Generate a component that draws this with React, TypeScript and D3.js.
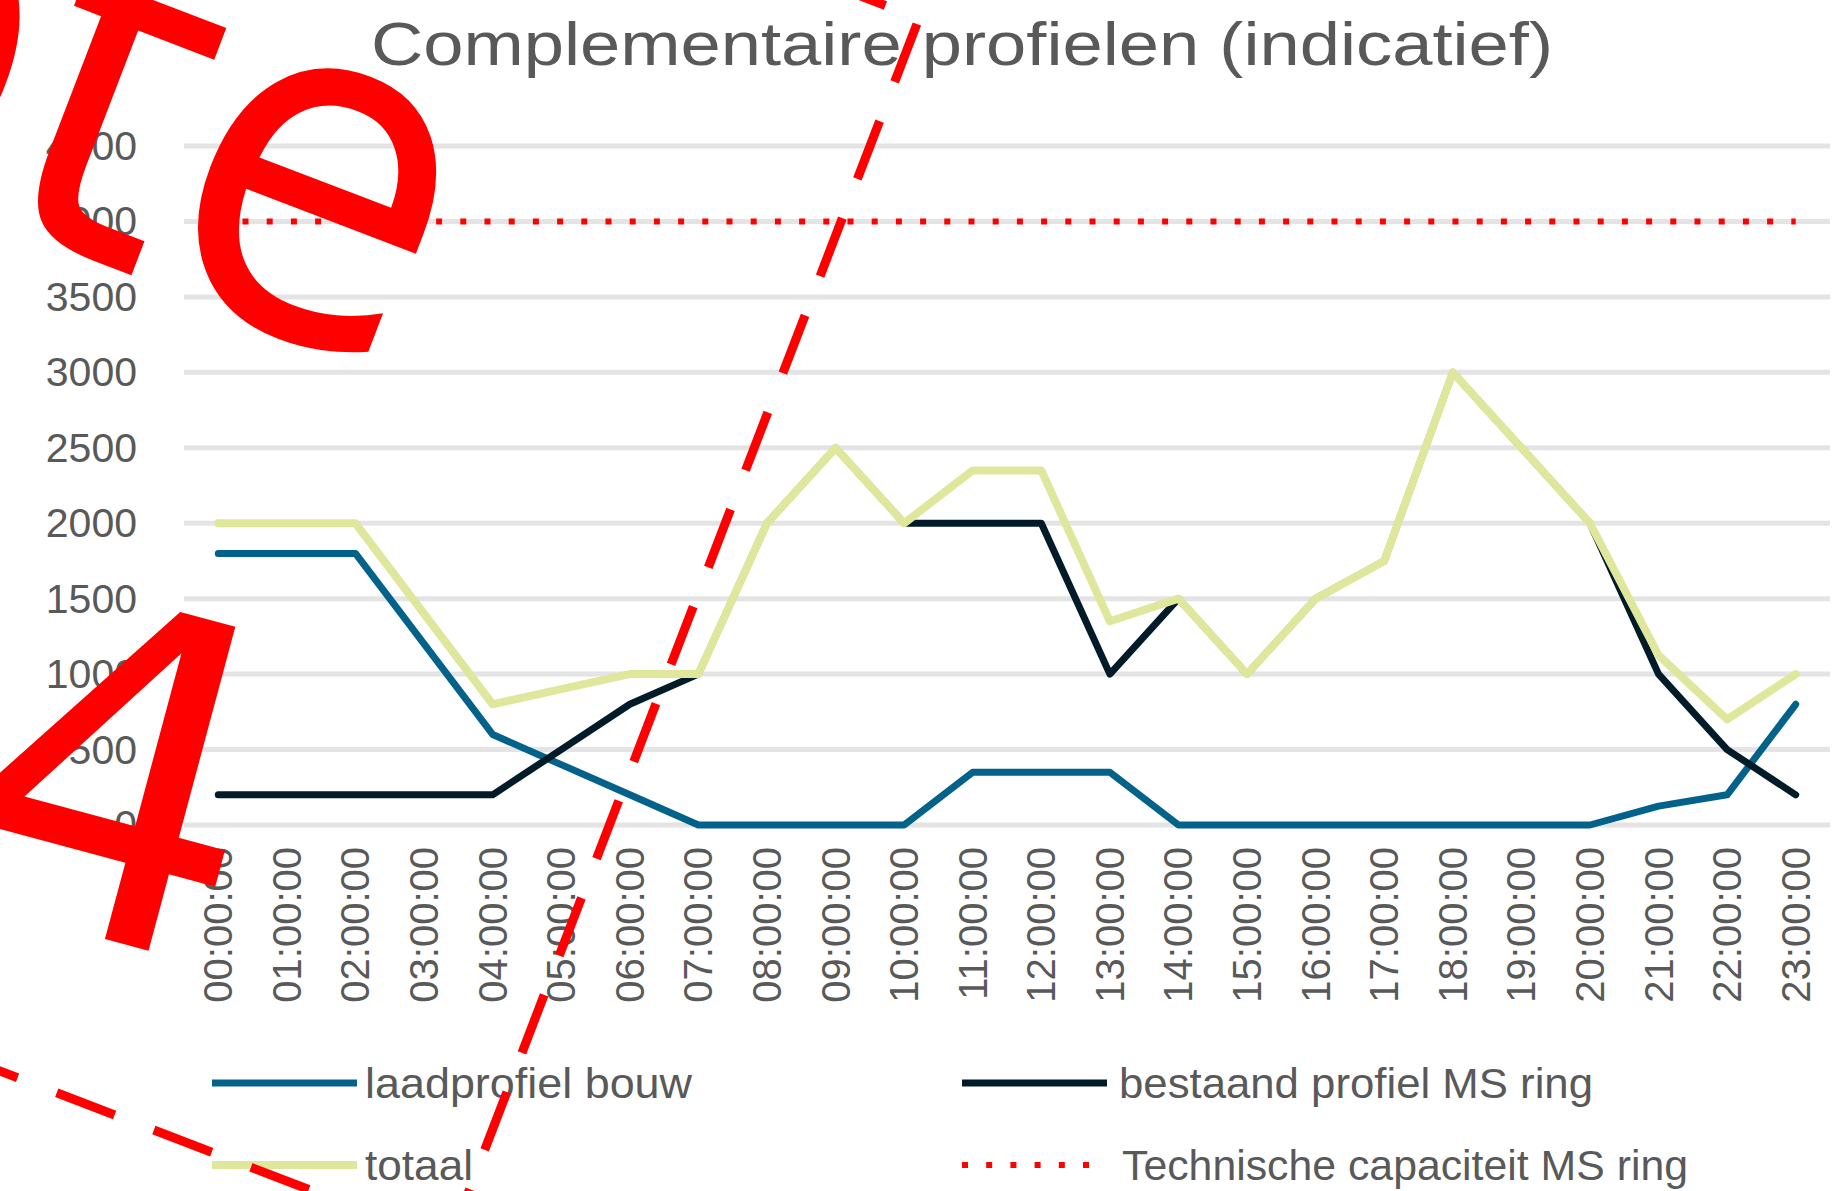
import * as d3 from "d3";

// hours on the x axis
const hours = [
  "00:00:00", "01:00:00", "02:00:00", "03:00:00", "04:00:00", "05:00:00",
  "06:00:00", "07:00:00", "08:00:00", "09:00:00", "10:00:00", "11:00:00",
  "12:00:00", "13:00:00", "14:00:00", "15:00:00", "16:00:00", "17:00:00",
  "18:00:00", "19:00:00", "20:00:00", "21:00:00", "22:00:00", "23:00:00",
];

// values
const laadprofielBouw = [1800, 1800, 1800, 1200, 600, 400, 200, 0, 0, 0, 0, 350, 350, 350, 0, 0, 0, 0, 0, 0, 0, 125, 200, 800];
const bestaandProfiel = [200, 200, 200, 200, 200, 500, 800, 1000, 2000, 2500, 2000, 2000, 2000, 1000, 1500, 1000, 1500, 1750, 3000, 2500, 2000, 1000, 500, 200];
const totaal = [2000, 2000, 2000, 1400, 800, 900, 1000, 1000, 2000, 2500, 2000, 2350, 2350, 1350, 1500, 1000, 1500, 1750, 3000, 2500, 2000, 1125, 700, 1000];
const capaciteit = [4000, 4000, 4000, 4000, 4000, 4000, 4000, 4000, 4000, 4000, 4000, 4000, 4000, 4000, 4000, 4000, 4000, 4000, 4000, 4000, 4000, 4000, 4000, 4000];

const yTicks = [0, 500, 1000, 1500, 2000, 2500, 3000, 3500, 4000, 4500];

const seriesNames = [
  "laadprofiel bouw",
  "bestaand profiel MS ring",
  "totaal",
  "Technische capaciteit MS ring",
];

const W = 1845;
const H = 1191;
const textColor = "#595959";
const font = "'Liberation Sans', Arial, sans-serif";
const markFont = "'DejaVu Sans', sans-serif";

export default function App() {
  const x = d3.scaleBand().domain(hours).range([184, 1830]);
  const xc = (h: string) => (x(h) ?? 0) + x.bandwidth() / 2;
  const y = d3.scaleLinear().domain([0, 4500]).range([825, 146]);

  const line = d3
    .line<number>()
    .x((_, i) => xc(hours[i]))
    .y((d) => y(d));

  const series = [
    { name: seriesNames[0], values: laadprofielBouw, color: "#03628a", width: 7, dash: "" },
    { name: seriesNames[1], values: bestaandProfiel, color: "#021b28", width: 7, dash: "" },
    { name: seriesNames[2], values: totaal, color: "#dfe79d", width: 8, dash: "" },
    { name: seriesNames[3], values: capaciteit, color: "#ff0000", width: 6, dash: "6 18.2" },
  ];

  // legend layout (row-major, two columns)
  const legendPos = [
    { x: 212, y: 1083, tx: 365, len: 327 },
    { x: 962, y: 1083, tx: 1119, len: 474 },
    { x: 212, y: 1165, tx: 365, len: 108 },
    { x: 962, y: 1165, tx: 1122, len: 566 },
  ];

  return (
    <svg
      width={W}
      height={H}
      style={{ position: "absolute", left: 0, top: 0, background: "#fff" }}
    >
      <rect width={W} height={H} fill="#fff" />

      {/* title */}
      <text
        x={962}
        y={65}
        textAnchor="middle"
        fontFamily={font}
        fontSize={62}
        fill={textColor}
        textLength={1182}
        lengthAdjust="spacingAndGlyphs"
      >
        Complementaire profielen (indicatief)
      </text>

      {/* gridlines */}
      {yTicks.map((t) => (
        <line
          key={t}
          x1={184}
          x2={1830}
          y1={y(t)}
          y2={y(t)}
          stroke="#e4e4e4"
          strokeWidth={5}
        />
      ))}

      {/* y labels */}
      {yTicks.map((t) => (
        <text
          key={t}
          x={137}
          y={y(t)}
          textAnchor="end"
          dominantBaseline="central"
          fontFamily={font}
          fontSize={41}
          fill={textColor}
        >
          {t}
        </text>
      ))}

      {/* x labels */}
      {hours.map((h) => (
        <text
          key={h}
          transform={`translate(${xc(h)},847) rotate(-90)`}
          textAnchor="end"
          dominantBaseline="central"
          fontFamily={font}
          fontSize={40}
          fill={textColor}
        >
          {h}
        </text>
      ))}

      {/* series */}
      {series.map((s) => (
        <path
          key={s.name}
          d={line(s.values) ?? ""}
          fill="none"
          stroke={s.color}
          strokeWidth={s.width}
          strokeDasharray={s.dash || undefined}
          strokeLinejoin="round"
          strokeLinecap={s.dash ? "butt" : "round"}
        />
      ))}

      {/* legend */}
      {series.map((s, i) => {
        const p = legendPos[i];
        return (
          <g key={s.name}>
            <line
              x1={p.x}
              x2={p.x + (s.dash ? 140 : 145)}
              y1={p.y}
              y2={p.y}
              stroke={s.color}
              strokeWidth={s.width}
              strokeDasharray={s.dash || undefined}
            />
            <text
              x={p.tx}
              y={p.y}
              dominantBaseline="central"
              fontFamily={font}
              fontSize={42}
              fill={textColor}
              textLength={p.len}
              lengthAdjust="spacingAndGlyphs"
            >
              {s.name}
            </text>
          </g>
        );
      })}

      {/* red hand annotation over the chart */}
      <g transform="translate(394,376) rotate(21)" fill="#ff0000">
        <g transform="scale(1,1.1)">
          <text x={0} y={0} textAnchor="end" fontFamily={markFont} fontSize={440}>
            Note
          </text>
        </g>
        <rect
          x={-1400}
          y={-522}
          width={1762}
          height={1312}
          fill="none"
          stroke="#ff0000"
          strokeWidth={9}
          strokeDasharray="62 42"
        />
      </g>
      <text
        transform="translate(-63,894) rotate(15)"
        fontFamily={markFont}
        fontSize={460}
        fill="#ff0000"
      >
        4
      </text>
    </svg>
  );
}
